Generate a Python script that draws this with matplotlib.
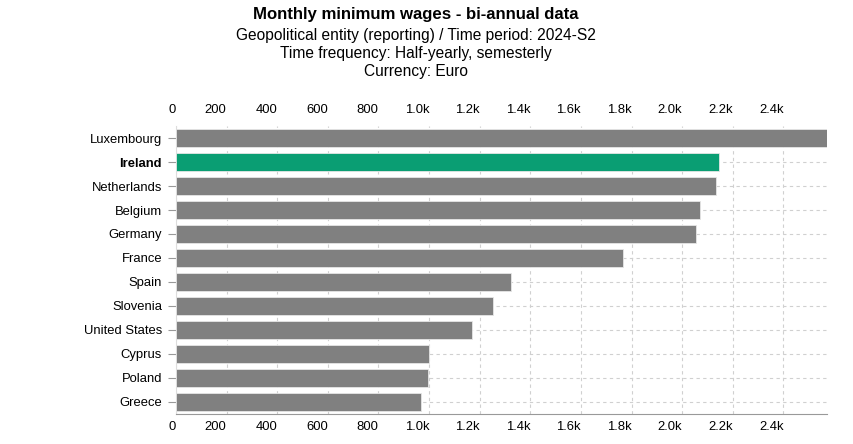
import matplotlib.pyplot as plt
from matplotlib.ticker import FuncFormatter

countries = ["Luxembourg", "Ireland", "Netherlands", "Belgium", "Germany", "France",
             "Spain", "Slovenia", "United States", "Cyprus", "Poland", "Greece"]
wages = [2570.93, 2146.13, 2133.0, 2070.48, 2054.0, 1766.92,
         1323.0, 1253.9, 1171.0, 1000.0, 995.0, 968.0]
highlight = "Ireland"

plt.rcParams['font.family'] = ['Liberation Sans', 'DejaVu Sans']

def fmt(v, pos):
    if v >= 1000:
        return "%.1fk" % (v / 1000.0)
    return "%d" % v

fig = plt.figure(figsize=(8.54, 4.44), dpi=100)
ax = fig.add_axes([0.206, 0.0676, 0.762, 0.6486])

colors = ['#0a9e73' if c == highlight else '#808080' for c in countries]
y = list(range(len(countries)))
ax.barh(y, wages, height=0.77, color=colors, edgecolor='#e6e6e6', linewidth=0.6, zorder=3)

ax.set_ylim(len(countries) - 0.5, -0.5)
ax.set_xlim(0, max(wages))
ax.set_yticks(y)
ax.set_yticklabels(countries, fontsize=9.4)
for lab in ax.get_yticklabels():
    if lab.get_text() == highlight:
        lab.set_fontweight('bold')

ticks = list(range(0, 2401, 200))
ax.set_xticks(ticks)
ax.xaxis.set_major_formatter(FuncFormatter(fmt))
ax.tick_params(axis='x', length=0, pad=5, labelsize=9.4)
ax.tick_params(axis='y', length=6, color='#999999', pad=4)
for lab in ax.get_xticklabels():
    lab.set_horizontalalignment('right')

ax.grid(True, linestyle=(0, (3, 3)), color='#d0d0d0', linewidth=0.8, zorder=0)
ax.set_axisbelow(True)

for s in ['top', 'right']:
    ax.spines[s].set_visible(False)
ax.spines['bottom'].set_color('#999999')
ax.spines['left'].set_color('#dddddd')

top = ax.twiny()
top.set_xlim(ax.get_xlim())
top.set_xticks(ticks)
top.xaxis.set_major_formatter(FuncFormatter(fmt))
top.tick_params(axis='x', length=0, pad=7, labelsize=9.4)
for lab in top.get_xticklabels():
    lab.set_horizontalalignment('right')
for s in top.spines.values():
    s.set_visible(False)

fig.text(0.487, 0.968, "Monthly minimum wages - bi-annual data", ha='center', va='center',
         fontsize=12.1, fontweight='bold')
fig.text(0.487, 0.921, "Geopolitical entity (reporting) / Time period: 2024-S2", ha='center',
         va='center', fontsize=11.2)
fig.text(0.487, 0.880, "Time frequency: Half-yearly, semesterly", ha='center', va='center',
         fontsize=11.2)
fig.text(0.487, 0.838, "Currency: Euro", ha='center', va='center', fontsize=11.2)

fig.savefig("out.png", dpi=100)
